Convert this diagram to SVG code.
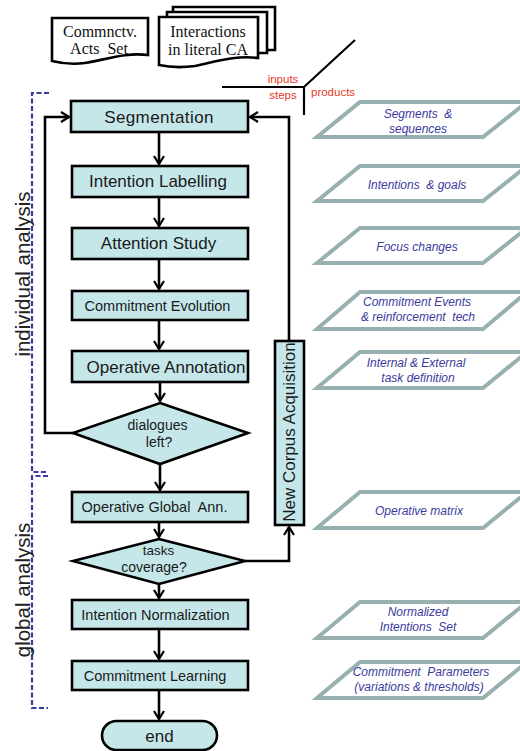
<svg xmlns="http://www.w3.org/2000/svg" width="520" height="751" viewBox="0 0 520 751">
<defs>
<marker id="arr" viewBox="0 0 10 12" refX="9" refY="6" markerWidth="10" markerHeight="12" markerUnits="userSpaceOnUse" orient="auto">
<path d="M1,1 L9,6 L1,11" fill="none" stroke="#000" stroke-width="2.2"/>
</marker>
<style>
.box{fill:#c6e7ea;stroke:#000;stroke-width:2.6}
.t{font-family:"Liberation Sans",Arial,sans-serif;fill:#1a1a1a;text-anchor:middle}
.doc{fill:#fff;stroke:#000;stroke-width:2.6}
.ser{font-family:"Liberation Serif","Times New Roman",serif;font-size:16px;fill:#111;text-anchor:middle}
.con{fill:none;stroke:#000;stroke-width:2.6}
.para{fill:#fff;stroke:#98b0b0;stroke-width:4}
.pt{font-family:"Liberation Sans",Arial,sans-serif;font-style:italic;font-size:12px;fill:#3b3b9e;text-anchor:middle}
.red{font-family:"Liberation Sans",Arial,sans-serif;font-size:11.5px;fill:#e53a28}
.brk{fill:none;stroke:#3a3aa0;stroke-width:2.2;stroke-dasharray:5,2.5}
.side{font-family:"Liberation Sans",Arial,sans-serif;font-size:20.5px;fill:#222;text-anchor:middle}
</style>
</defs>

<!-- input documents -->
<g id="commnctv-acts">
<path class="doc" d="M52,18 H148 V55 C125,52 105,60 85,63 C70,65 60,63 52,61 Z"/>
<text class="ser" x="100" y="37">Commnctv.</text>
<text class="ser" x="99" y="54" xml:space="preserve">Acts  Set</text>
</g>
<g id="interactions">
<path class="doc" d="M173,12 V7 H275 V50 H267"/>
<path class="doc" d="M167,17 V12 H267 V53 H258"/>
<path class="doc" d="M159,17 H258 V58 C235,55 215,62 195,66 C180,68 168,67 159,65 Z"/>
<text class="ser" x="208" y="37">Interactions</text>
<text class="ser" x="208" y="55">in literal CA</text>
</g>

<!-- legend -->
<g id="legend">
<path d="M222,87 H304 L355,40 M304,87 V115" fill="none" stroke="#000" stroke-width="2.2"/>
<text class="red" x="283" y="83" text-anchor="middle">inputs</text>
<text class="red" x="283" y="99" text-anchor="middle">steps</text>
<text class="red" x="311" y="96">products</text>
</g>

<!-- brackets -->
<g id="individual-analysis">
<path class="brk" d="M49,93 H32 V472 H48"/>
<text class="side" transform="translate(30,274) rotate(-90)">individual analysis</text>
</g>
<g id="global-analysis">
<path class="brk" d="M48,476 H32 V708 H48"/>
<text class="side" transform="translate(30,590) rotate(-90)">global analysis</text>
</g>

<!-- connectors -->
<g id="connectors">
<path class="con" d="M159,132 V164" marker-end="url(#arr)"/>
<path class="con" d="M159,197 V226" marker-end="url(#arr)"/>
<path class="con" d="M159,259 V289" marker-end="url(#arr)"/>
<path class="con" d="M159,320 V349" marker-end="url(#arr)"/>
<path class="con" d="M160,382 V401" marker-end="url(#arr)"/>
<path class="con" d="M160,464 V490" marker-end="url(#arr)"/>
<path class="con" d="M159,522 V537" marker-end="url(#arr)"/>
<path class="con" d="M159,584 V598" marker-end="url(#arr)"/>
<path class="con" d="M159,629 V659" marker-end="url(#arr)"/>
<path class="con" d="M159,690 V719" marker-end="url(#arr)"/>
<path class="con" d="M73,433 H45 V117 H69" marker-end="url(#arr)"/>
<path class="con" d="M245,561 H289 V527" marker-end="url(#arr)"/>
<path class="con" d="M289,341 V117 H250" marker-end="url(#arr)"/>
</g>

<!-- steps -->
<g id="segmentation">
<rect class="box" x="71" y="101" width="177" height="31"/>
<text class="t" x="159" y="122.5" font-size="17" letter-spacing="0.4">Segmentation</text>
</g>
<g id="intention-labelling">
<rect class="box" x="72" y="166" width="176" height="31"/>
<text class="t" x="158" y="187" font-size="17">Intention Labelling</text>
</g>
<g id="attention-study">
<rect class="box" x="72" y="228" width="176" height="31"/>
<text class="t" x="158.5" y="249" font-size="17">Attention Study</text>
</g>
<g id="commitment-evolution">
<rect class="box" x="72" y="291" width="176" height="29"/>
<text class="t" x="157.5" y="310.5" font-size="14.5">Commitment Evolution</text>
</g>
<g id="operative-annotation">
<rect class="box" x="72" y="351" width="176" height="31"/>
<text class="t" x="166" y="372.5" font-size="17">Operative Annotation</text>
</g>
<g id="dialogues-left">
<polygon class="box" points="160,403 248,433 160,464 73,433"/>
<text class="t" x="157.5" y="430" font-size="14">dialogues</text>
<text class="t" x="159" y="447" font-size="14">left?</text>
</g>
<g id="operative-global-ann">
<rect class="box" x="72" y="492" width="176" height="30"/>
<text class="t" x="154.5" y="512" font-size="14.5" xml:space="preserve">Operative Global  Ann.</text>
</g>
<g id="tasks-coverage">
<polygon class="box" points="159,539 245,561 159,584 73,561"/>
<text class="t" x="158.5" y="555" font-size="13.5">tasks</text>
<text class="t" x="154" y="572" font-size="14">coverage?</text>
</g>
<g id="intention-normalization">
<rect class="box" x="72" y="600" width="176" height="29"/>
<text class="t" x="155.5" y="619.5" font-size="14.5">Intention Normalization</text>
</g>
<g id="commitment-learning">
<rect class="box" x="72" y="661" width="176" height="29"/>
<text class="t" x="155" y="680.5" font-size="14.5">Commitment Learning</text>
</g>
<g id="end">
<rect class="box" x="102" y="721" width="115" height="29" rx="14.5" ry="14.5"/>
<text class="t" x="159.5" y="742" font-size="17">end</text>
</g>
<g id="new-corpus-acquisition">
<rect class="box" x="275" y="341" width="29" height="184"/>
<text class="t" transform="translate(295,432) rotate(-90)" font-size="17">New Corpus Acquisition</text>
</g>

<!-- products -->
<g id="p-segments">
<polygon class="para" points="360,102 527,102 483,137 317,137"/>
<text class="pt" x="418" y="117.5" xml:space="preserve">Segments  &amp;</text>
<text class="pt" x="418" y="132.5">sequences</text>
</g>
<g id="p-intentions">
<polygon class="para" points="360,166 527,166 483,201 317,201"/>
<text class="pt" x="417" y="189" xml:space="preserve">Intentions  &amp; goals</text>
</g>
<g id="p-focus">
<polygon class="para" points="360,228 527,228 483,263 317,263"/>
<text class="pt" x="417" y="251">Focus changes</text>
</g>
<g id="p-commitment-events">
<polygon class="para" points="360,292 527,292 483,329 317,329"/>
<text class="pt" x="417" y="306">Commitment Events</text>
<text class="pt" x="418" y="321" xml:space="preserve">&amp; reinforcement  tech</text>
</g>
<g id="p-task-definition">
<polygon class="para" points="360,352 527,352 483,388 317,388"/>
<text class="pt" x="416" y="367">Internal &amp; External</text>
<text class="pt" x="418" y="382">task definition</text>
</g>
<g id="p-operative-matrix">
<polygon class="para" points="360,492 527,492 483,528 317,528"/>
<text class="pt" x="419" y="515">Operative matrix</text>
</g>
<g id="p-normalized">
<polygon class="para" points="360,602 527,602 483,638 317,638"/>
<text class="pt" x="418" y="616">Normalized</text>
<text class="pt" x="418" y="631" xml:space="preserve">Intentions  Set</text>
</g>
<g id="p-parameters">
<polygon class="para" points="360,662 527,662 483,698 317,698"/>
<text class="pt" x="421" y="676" xml:space="preserve">Commitment  Parameters</text>
<text class="pt" x="419" y="691">(variations &amp; thresholds)</text>
</g>
</svg>
